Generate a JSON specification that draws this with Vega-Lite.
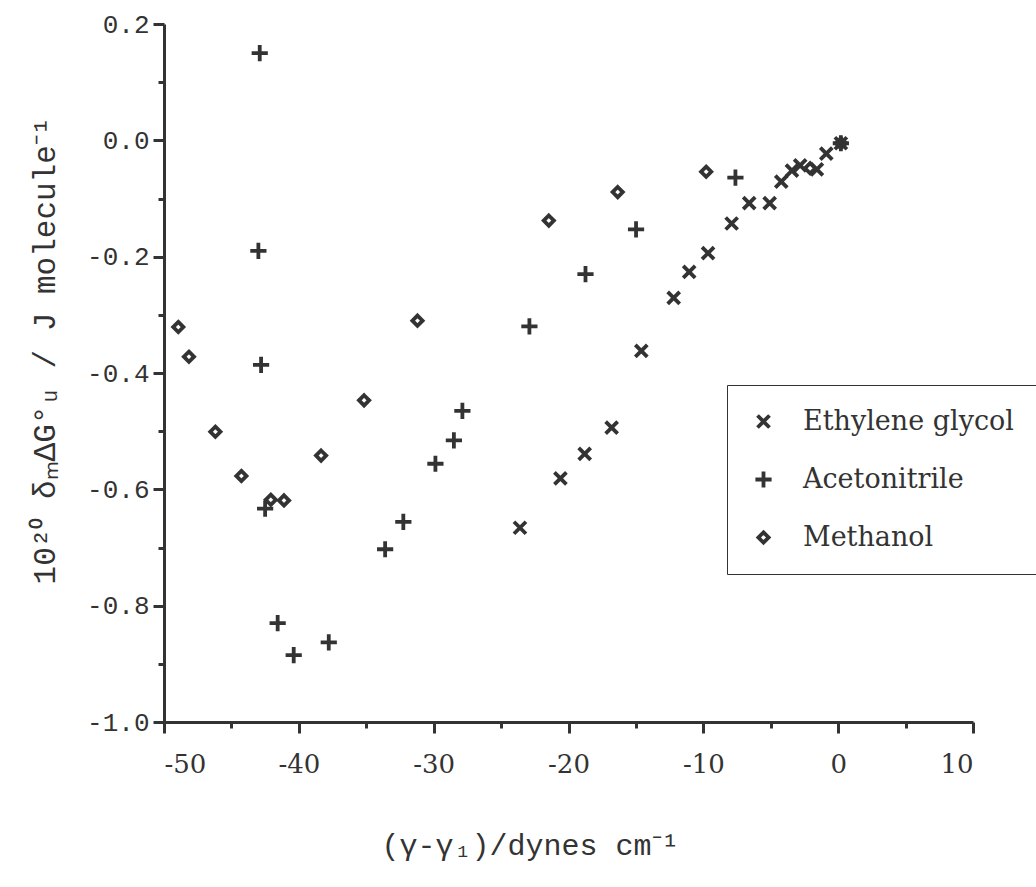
{
  "$schema": "https://vega.github.io/schema/vega-lite/v6.json",
  "width": 809,
  "height": 698,
  "autosize": {"type": "none"},
  "padding": {"left": 164, "top": 24, "right": 63, "bottom": 165},
  "background": "white",
  "config": {"view": {"stroke": null}},
  "data": {"values": [
    {"series": "Ethylene glycol", "x": -23.6, "y": -0.666},
    {"series": "Ethylene glycol", "x": -20.6, "y": -0.581},
    {"series": "Ethylene glycol", "x": -18.8, "y": -0.539},
    {"series": "Ethylene glycol", "x": -16.8, "y": -0.494},
    {"series": "Ethylene glycol", "x": -14.6, "y": -0.362},
    {"series": "Ethylene glycol", "x": -12.2, "y": -0.271},
    {"series": "Ethylene glycol", "x": -11.05, "y": -0.226},
    {"series": "Ethylene glycol", "x": -9.65, "y": -0.194},
    {"series": "Ethylene glycol", "x": -7.9, "y": -0.143},
    {"series": "Ethylene glycol", "x": -6.6, "y": -0.108},
    {"series": "Ethylene glycol", "x": -5.08, "y": -0.108},
    {"series": "Ethylene glycol", "x": -4.22, "y": -0.071},
    {"series": "Ethylene glycol", "x": -3.43, "y": -0.052},
    {"series": "Ethylene glycol", "x": -2.82, "y": -0.043},
    {"series": "Ethylene glycol", "x": -1.58, "y": -0.05},
    {"series": "Ethylene glycol", "x": -0.88, "y": -0.023},
    {"series": "Ethylene glycol", "x": 0.2, "y": -0.005},
    {"series": "Acetonitrile", "x": -42.9, "y": 0.15},
    {"series": "Acetonitrile", "x": -43.0, "y": -0.19},
    {"series": "Acetonitrile", "x": -42.8, "y": -0.386},
    {"series": "Acetonitrile", "x": -42.5, "y": -0.633},
    {"series": "Acetonitrile", "x": -41.57, "y": -0.83},
    {"series": "Acetonitrile", "x": -40.38, "y": -0.885},
    {"series": "Acetonitrile", "x": -37.78, "y": -0.863},
    {"series": "Acetonitrile", "x": -33.6, "y": -0.703},
    {"series": "Acetonitrile", "x": -32.25, "y": -0.656},
    {"series": "Acetonitrile", "x": -29.87, "y": -0.556},
    {"series": "Acetonitrile", "x": -28.5, "y": -0.516},
    {"series": "Acetonitrile", "x": -27.87, "y": -0.465},
    {"series": "Acetonitrile", "x": -22.9, "y": -0.32},
    {"series": "Acetonitrile", "x": -18.74, "y": -0.23},
    {"series": "Acetonitrile", "x": -14.99, "y": -0.153},
    {"series": "Acetonitrile", "x": -7.62, "y": -0.064},
    {"series": "Acetonitrile", "x": 0.2, "y": -0.005},
    {"series": "Methanol", "x": -48.94, "y": -0.321},
    {"series": "Methanol", "x": -48.15, "y": -0.372},
    {"series": "Methanol", "x": -46.19, "y": -0.501},
    {"series": "Methanol", "x": -44.26, "y": -0.577},
    {"series": "Methanol", "x": -42.08, "y": -0.618},
    {"series": "Methanol", "x": -41.1, "y": -0.619},
    {"series": "Methanol", "x": -38.35, "y": -0.542},
    {"series": "Methanol", "x": -35.16, "y": -0.447},
    {"series": "Methanol", "x": -31.2, "y": -0.31},
    {"series": "Methanol", "x": -21.46, "y": -0.138},
    {"series": "Methanol", "x": -16.35, "y": -0.089},
    {"series": "Methanol", "x": -9.79, "y": -0.054},
    {"series": "Methanol", "x": -2.08, "y": -0.048},
    {"series": "Methanol", "x": 0.2, "y": -0.005}
  ]},
  "mark": {"type": "point", "filled": false, "color": "#333333", "strokeWidth": 3.8, "opacity": 1, "size": 144},
  "encoding": {
    "x": {
      "field": "x", "type": "quantitative",
      "scale": {"domain": [-50, 10], "nice": false, "zero": false},
      "axis": {
        "values": [-50, -45, -40, -35, -30, -25, -20, -15, -10, -5, 0, 5, 10],
        "labelExpr": "datum.value % 10 === 0 ? replace(datum.label, '−', '-') : ''",
        "grid": false,
        "domainColor": "#333333", "domainWidth": 3,
        "tickColor": "#333333", "tickWidth": 3,
        "tickSize": {"condition": {"test": "datum.value % 10 !== 0", "value": 6}, "value": 11},
        "labelFont": "DejaVu Serif", "labelFontSize": 26, "labelColor": "#333333",
        "labelPadding": 18,
        "title": "(γ-γ₁)/dynes cm⁻¹",
        "titleFont": "Liberation Mono", "titleFontSize": 30, "titleFontWeight": "normal", "titleColor": "#333333",
        "titleX": 366, "titleY": 123, "titleBaseline": "middle", "titleAlign": "center"
      }
    },
    "y": {
      "field": "y", "type": "quantitative",
      "scale": {"domain": [-1.0, 0.2], "nice": false, "zero": false},
      "axis": {
        "values": [-1.0, -0.9, -0.8, -0.7, -0.6, -0.5, -0.4, -0.3, -0.2, -0.1, 0, 0.1, 0.2],
        "labelExpr": "abs(round(datum.value * 10)) % 2 === 0 ? replace(format(datum.value, '.1f'), '−', '-') : ''",
        "grid": false,
        "domainColor": "#333333", "domainWidth": 3,
        "tickColor": "#333333", "tickWidth": 3,
        "tickSize": {"condition": {"test": "abs(round(datum.value * 10)) % 2 === 1", "value": 6}, "value": 11},
        "labelFont": "Liberation Mono", "labelFontSize": 26, "labelColor": "#333333",
        "labelPadding": 4,
        "title": "10²⁰ δₘΔG°ᵤ / J molecule⁻¹",
        "titleFont": "Liberation Mono", "titleFontSize": 31, "titleFontWeight": "normal", "titleColor": "#333333",
        "titleX": -119, "titleY": 326, "titleBaseline": "middle", "titleAlign": "center", "titleAngle": -90
      }
    },
    "shape": {
      "field": "series", "type": "nominal",
      "scale": {
        "domain": ["Ethylene glycol", "Acetonitrile", "Methanol"],
        "range": ["M-1,-1L1,1M-1,1L1,-1", "M-1.35,0L1.35,0M0,-1.35L0,1.35", "M0,-0.85L0.85,0L0,0.85L-0.85,0Z"]
      },
      "legend": {
        "orient": "none", "legendX": 563, "legendY": 361,
        "title": null,
        "strokeColor": "#333333",
        "padding": 23,
        "rowPadding": 27,
        "symbolSize": 144,
        "symbolStrokeWidth": 3.8,
        "symbolStrokeColor": "#333333",
        "symbolFillColor": "transparent",
        "labelOffset": 26,
        "labelLimit": 500,
        "labelFont": "DejaVu Serif", "labelFontSize": 27, "labelColor": "#333333",
        "fillColor": "white"
      }
    }
  }
}
